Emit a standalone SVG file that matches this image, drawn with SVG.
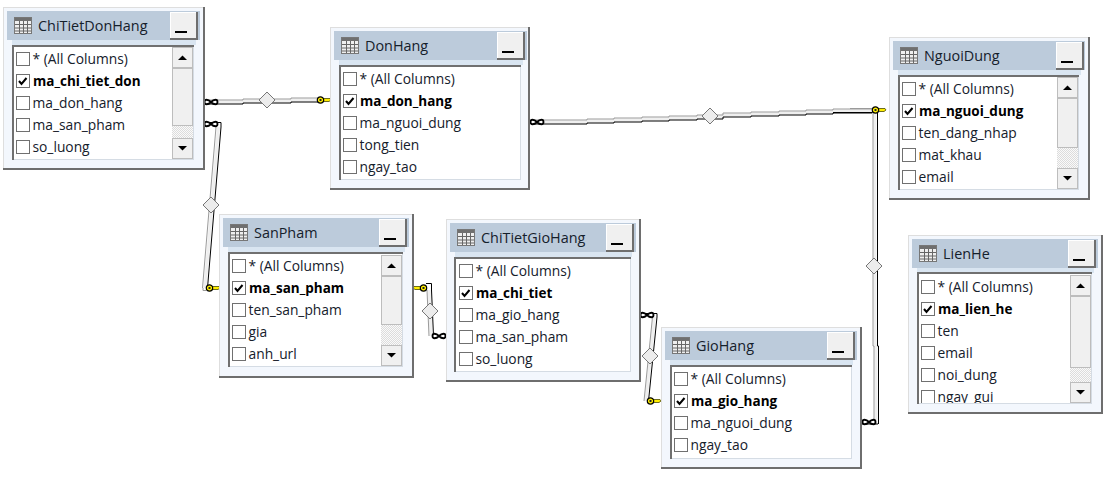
<svg xmlns="http://www.w3.org/2000/svg" xmlns:xlink="http://www.w3.org/1999/xlink" width="1115" height="482" viewBox="0 0 1115 482">
<style>
text{font-family:"Open Sans","Noto Sans","Liberation Sans",sans-serif;fill:#15202b}
.t{font-size:14.400px}
.r{font-size:13.800px}
.b{font-size:13.500px;font-weight:700;fill:#000}
.o{fill:#f3f7fd;stroke:#dedede;stroke-width:1}
.s{fill:none;stroke:#6e6e6e;stroke-width:2}
.h{fill:#bccbdb}
.n{fill:#d9e5f1}
.l{fill:#fff;stroke:#d5dce4;stroke-width:1}
.la{fill:none;stroke:#707070;stroke-width:2}
.g{fill:none;stroke:#9a9a9a;stroke-width:1}
.w{fill:none;stroke:#efefef;stroke-width:3}
.k{fill:none;stroke:#000;stroke-width:1}
.sb{fill:#f0f0f0;stroke:#bdbdbd;stroke-width:1}
.tr{fill:url(#hatch)}
</style>
<defs>
<pattern id="hatch" width="2" height="2" patternUnits="userSpaceOnUse"><rect width="2" height="2" fill="#fafafa"/><rect width="1" height="1" fill="#dcdcdc"/><rect x="1" y="1" width="1" height="1" fill="#dcdcdc"/></pattern>
<g id="icon"><rect x="0.500" y="0.500" width="17" height="16" fill="#efefef" stroke="#777"/><rect x="1" y="1" width="16" height="3" fill="#6f6f6f"/><path d="M1 7.500H17M1 11H17M1 14H17M5.500 4V16M9.500 4V16M13.500 4V16" stroke="#666" fill="none"/></g>
<g id="btn"><rect x="0.500" y="0.500" width="26" height="26" fill="#f0f0f0" stroke="#fff"/><path d="M27 0V27H0" fill="none" stroke="#6e6e6e" stroke-width="2"/><rect x="5" y="19" width="12" height="2" fill="#000"/></g>
<rect id="chk" x="0.500" y="0.500" width="13" height="13" fill="#fff" stroke="#707070"/>
<g id="chkd"><use xlink:href="#chk"/><path d="M3 7L5.500 10L10.500 4" fill="none" stroke="#000" stroke-width="2"/></g>
<path id="up" d="M0 0H9L4.500-4.500Z" fill="#000"/>
<path id="dn" d="M0 0H9L4.500 4.500Z" fill="#000"/>
<g id="key"><path d="M5 -1.500H12L13 0L11 1.500H5Z" fill="#ffee00" stroke="#4a4a00" stroke-width="0.800"/><circle cx="2.500" cy="0" r="3.200" fill="#ffee00" stroke="#000" stroke-width="1.200"/><rect x="1.500" y="-1" width="2" height="2" fill="#222"/></g>
<path id="inf" d="M-6.500 0C-6.500-3-3-3 0 0S6.500 3 6.500 0S3-3 0 0S-6.500 3-6.500 0Z" fill="#fff" stroke="#000" stroke-width="1.800"/>
<path id="dia" d="M0-8L8 0L0 8L-8 0Z" fill="#ececec" stroke="#777" stroke-width="1"/>
<clipPath id="lienClip"><rect x="10" y="39" width="152" height="129"/></clipPath>
<path id="c1" d="M206 104H243V103H291V102H318"/>
<path id="c2" d="M221 127L207.500 288"/>
<path id="c3" d="M531 124H587V123H614V122H642V121H669V120H697V119H723V117H751V116H779V115H806V114H833V113H872"/>
<path id="c4" d="M877.500 112V346H878.500V424"/>
<path id="c5" d="M431.500 290L433.500 336"/>
<path id="c6" d="M657 317L648.500 401"/>
</defs>

<g id="connectors">
<use xlink:href="#c1" class="w" y="-2"/><use xlink:href="#c1" class="g" y="-4"/><use xlink:href="#c1" class="k"/>
<use xlink:href="#dia" x="267" y="100"/>
<use xlink:href="#key" x="318" y="100"/>
<use xlink:href="#inf" x="211" y="102"/>

<use xlink:href="#c2" class="w" x="-2.500"/><use xlink:href="#c2" class="g" x="-5"/><use xlink:href="#c2" class="k"/>
<path class="k" d="M206 122.500H221V127"/><path class="g" d="M203 288V290.500H206"/>
<use xlink:href="#dia" x="211" y="205"/>
<use xlink:href="#inf" x="211" y="124"/>
<use xlink:href="#key" x="207" y="288"/>

<use xlink:href="#c3" class="w" y="-2"/><use xlink:href="#c3" class="g" y="-4"/><use xlink:href="#c3" class="k"/>
<path class="g" d="M850 108.500H873"/><path class="k" d="M833 112.500H873"/>
<use xlink:href="#dia" x="710" y="116"/>
<use xlink:href="#inf" x="537" y="122"/>

<use xlink:href="#c4" class="w" x="-2.500"/><use xlink:href="#c4" class="g" x="-4.500"/><use xlink:href="#c4" class="k"/>
<path class="k" d="M862 424H878"/>
<use xlink:href="#dia" x="874" y="266"/>
<use xlink:href="#inf" x="869" y="422"/>
<use xlink:href="#key" x="873" y="110"/>

<use xlink:href="#c5" class="w" x="-2.500"/><use xlink:href="#c5" class="g" x="-4.500"/><use xlink:href="#c5" class="k"/>
<path class="k" d="M426 283.500H431.500V290"/>
<use xlink:href="#dia" x="430" y="311"/>
<use xlink:href="#inf" x="439" y="336"/>
<use xlink:href="#key" x="-426" y="288" transform="scale(-1 1)"/>

<use xlink:href="#c6" class="w" x="-2.500"/><use xlink:href="#c6" class="g" x="-4.500"/><use xlink:href="#c6" class="k"/>
<path class="k" d="M642 313.500H657V317"/>
<use xlink:href="#dia" x="650" y="356"/>
<use xlink:href="#inf" x="647" y="315"/>
<use xlink:href="#key" x="648" y="401"/>
</g>

<g id="ChiTietDonHang" transform="translate(3 7)">
<rect class="o" x="0.500" y="0.500" width="200" height="161"/><path class="s" d="M0 162H201V0"/>
<rect class="h" x="4" y="4" width="193" height="29"/><rect class="n" x="9" y="33" width="184" height="5"/>
<use xlink:href="#icon" x="11" y="10"/><text class="t" x="35" y="24">ChiTietDonHang</text><use xlink:href="#btn" x="167" y="5"/>
<rect class="l" x="10.500" y="39.500" width="180" height="113"/><path class="la" d="M10 153V39H191"/>
<rect class="tr" x="169" y="118" width="21" height="13"/>
<rect class="sb" x="169.500" y="40.500" width="20" height="20"/><use xlink:href="#up" x="175" y="53"/>
<rect class="sb" x="169.500" y="61.500" width="20" height="57"/>
<rect class="sb" x="169.500" y="131.500" width="20" height="20"/><use xlink:href="#dn" x="175" y="139"/>
<use xlink:href="#chk" x="13" y="45"/><text class="r" x="29.500" y="57">* (All Columns)</text>
<use xlink:href="#chkd" x="13" y="67"/><text class="b" x="30" y="79">ma_chi_tiet_don</text>
<use xlink:href="#chk" x="13" y="89"/><text class="r" x="29.500" y="101">ma_don_hang</text>
<use xlink:href="#chk" x="13" y="111"/><text class="r" x="29.500" y="123">ma_san_pham</text>
<use xlink:href="#chk" x="13" y="133"/><text class="r" x="29.500" y="145">so_luong</text>
</g>

<g id="DonHang" transform="translate(330 27)">
<rect class="o" x="0.500" y="0.500" width="198" height="161"/><path class="s" d="M0 162H199V0"/>
<rect class="h" x="4" y="4" width="193" height="29"/><rect class="n" x="9" y="33" width="184" height="5"/>
<use xlink:href="#icon" x="11" y="10"/><text class="t" x="35" y="24">DonHang</text><use xlink:href="#btn" x="167" y="5"/>
<rect class="l" x="10.500" y="39.500" width="180" height="113"/><path class="la" d="M10 153V39H191"/>
<use xlink:href="#chk" x="13" y="45"/><text class="r" x="29.500" y="57">* (All Columns)</text>
<use xlink:href="#chkd" x="13" y="67"/><text class="b" x="30" y="79">ma_don_hang</text>
<use xlink:href="#chk" x="13" y="89"/><text class="r" x="29.500" y="101">ma_nguoi_dung</text>
<use xlink:href="#chk" x="13" y="111"/><text class="r" x="29.500" y="123">tong_tien</text>
<use xlink:href="#chk" x="13" y="133"/><text class="r" x="29.500" y="145">ngay_tao</text>
</g>

<g id="NguoiDung" transform="translate(889 37)">
<rect class="o" x="0.500" y="0.500" width="199" height="161"/><path class="s" d="M0 162H200V0"/>
<rect class="h" x="4" y="4" width="192" height="29"/><rect class="n" x="9" y="33" width="183" height="5"/>
<use xlink:href="#icon" x="11" y="10"/><text class="t" x="35" y="24">NguoiDung</text><use xlink:href="#btn" x="167" y="5"/>
<rect class="l" x="10.500" y="39.500" width="179" height="113"/><path class="la" d="M10 153V39H190"/>
<rect class="tr" x="168" y="110" width="21" height="21"/>
<rect class="sb" x="168.500" y="40.500" width="20" height="20"/><use xlink:href="#up" x="174" y="53"/>
<rect class="sb" x="168.500" y="61.500" width="20" height="49"/>
<rect class="sb" x="168.500" y="131.500" width="20" height="20"/><use xlink:href="#dn" x="174" y="139"/>
<use xlink:href="#chk" x="13" y="45"/><text class="r" x="29.500" y="57">* (All Columns)</text>
<use xlink:href="#chkd" x="13" y="67"/><text class="b" x="30" y="79">ma_nguoi_dung</text>
<use xlink:href="#chk" x="13" y="89"/><text class="r" x="29.500" y="101">ten_dang_nhap</text>
<use xlink:href="#chk" x="13" y="111"/><text class="r" x="29.500" y="123">mat_khau</text>
<use xlink:href="#chk" x="13" y="133"/><text class="r" x="29.500" y="145">email</text>
</g>

<g id="SanPham" transform="translate(219 214)">
<rect class="o" x="0.500" y="0.500" width="193" height="162"/><path class="s" d="M0 163H194V0"/>
<rect class="h" x="4" y="4" width="186" height="29"/><rect class="n" x="9" y="33" width="177" height="5"/>
<use xlink:href="#icon" x="11" y="10"/><text class="t" x="35" y="24">SanPham</text><use xlink:href="#btn" x="160" y="5"/>
<rect class="l" x="10.500" y="39.500" width="173" height="113"/><path class="la" d="M10 153V39H184"/>
<rect class="tr" x="162" y="110" width="21" height="21"/>
<rect class="sb" x="162.500" y="41.500" width="20" height="20"/><use xlink:href="#up" x="168" y="54"/>
<rect class="sb" x="162.500" y="62.500" width="20" height="48"/>
<rect class="sb" x="162.500" y="131.500" width="20" height="20"/><use xlink:href="#dn" x="168" y="139"/>
<use xlink:href="#chk" x="13" y="45"/><text class="r" x="29.500" y="57">* (All Columns)</text>
<use xlink:href="#chkd" x="13" y="67"/><text class="b" x="30" y="79">ma_san_pham</text>
<use xlink:href="#chk" x="13" y="89"/><text class="r" x="29.500" y="101">ten_san_pham</text>
<use xlink:href="#chk" x="13" y="111"/><text class="r" x="29.500" y="123">gia</text>
<use xlink:href="#chk" x="13" y="133"/><text class="r" x="29.500" y="145">anh_url</text>
</g>

<g id="ChiTietGioHang" transform="translate(446 219)">
<rect class="o" x="0.500" y="0.500" width="193" height="161"/><path class="s" d="M0 162H194V0"/>
<rect class="h" x="4" y="4" width="186" height="29"/><rect class="n" x="9" y="33" width="177" height="5"/>
<use xlink:href="#icon" x="11" y="10"/><text class="t" x="35" y="24">ChiTietGioHang</text><use xlink:href="#btn" x="160" y="5"/>
<rect class="l" x="9.500" y="39.500" width="175" height="113"/><path class="la" d="M9 153V39H185"/>
<use xlink:href="#chk" x="13" y="45"/><text class="r" x="29.500" y="57">* (All Columns)</text>
<use xlink:href="#chkd" x="13" y="67"/><text class="b" x="30" y="79">ma_chi_tiet</text>
<use xlink:href="#chk" x="13" y="89"/><text class="r" x="29.500" y="101">ma_gio_hang</text>
<use xlink:href="#chk" x="13" y="111"/><text class="r" x="29.500" y="123">ma_san_pham</text>
<use xlink:href="#chk" x="13" y="133"/><text class="r" x="29.500" y="145">so_luong</text>
</g>

<g id="GioHang" transform="translate(661 327)">
<rect class="o" x="0.500" y="0.500" width="199" height="140"/><path class="s" d="M0 141H200V0"/>
<rect class="h" x="4" y="4" width="192" height="29"/><rect class="n" x="9" y="33" width="183" height="5"/>
<use xlink:href="#icon" x="11" y="10"/><text class="t" x="35" y="24">GioHang</text><use xlink:href="#btn" x="166" y="5"/>
<rect class="l" x="10.500" y="39.500" width="180" height="92"/><path class="la" d="M10 132V39H191"/>
<use xlink:href="#chk" x="13" y="45"/><text class="r" x="29.500" y="57">* (All Columns)</text>
<use xlink:href="#chkd" x="13" y="67"/><text class="b" x="30" y="79">ma_gio_hang</text>
<use xlink:href="#chk" x="13" y="89"/><text class="r" x="29.500" y="101">ma_nguoi_dung</text>
<use xlink:href="#chk" x="13" y="111"/><text class="r" x="29.500" y="123">ngay_tao</text>
</g>

<g id="LienHe" transform="translate(908 235)">
<rect class="o" x="0.500" y="0.500" width="193" height="177"/><path class="s" d="M0 178H194V0"/>
<rect class="h" x="4" y="4" width="186" height="29"/><rect class="n" x="9" y="33" width="177" height="5"/>
<use xlink:href="#icon" x="11" y="10"/><text class="t" x="35" y="24">LienHe</text><use xlink:href="#btn" x="160" y="5"/>
<rect class="l" x="10.500" y="38.500" width="173" height="130"/><path class="la" d="M10 169V38H184"/>
<rect class="tr" x="162" y="132" width="21" height="15"/>
<rect class="sb" x="162.500" y="40.500" width="20" height="20"/><use xlink:href="#up" x="168" y="53"/>
<rect class="sb" x="162.500" y="61.500" width="20" height="71"/>
<rect class="sb" x="162.500" y="147.500" width="20" height="20"/><use xlink:href="#dn" x="168" y="155"/>
<use xlink:href="#chk" x="13" y="45"/><text class="r" x="29.500" y="57">* (All Columns)</text>
<use xlink:href="#chkd" x="13" y="67"/><text class="b" x="30" y="79">ma_lien_he</text>
<use xlink:href="#chk" x="13" y="89"/><text class="r" x="29.500" y="101">ten</text>
<use xlink:href="#chk" x="13" y="111"/><text class="r" x="29.500" y="123">email</text>
<use xlink:href="#chk" x="13" y="133"/><text class="r" x="29.500" y="145">noi_dung</text>
<g clip-path="url(#lienClip)"><use xlink:href="#chk" x="13" y="155"/><text class="r" x="29.500" y="167">ngay_gui</text></g>
</g>
</svg>
